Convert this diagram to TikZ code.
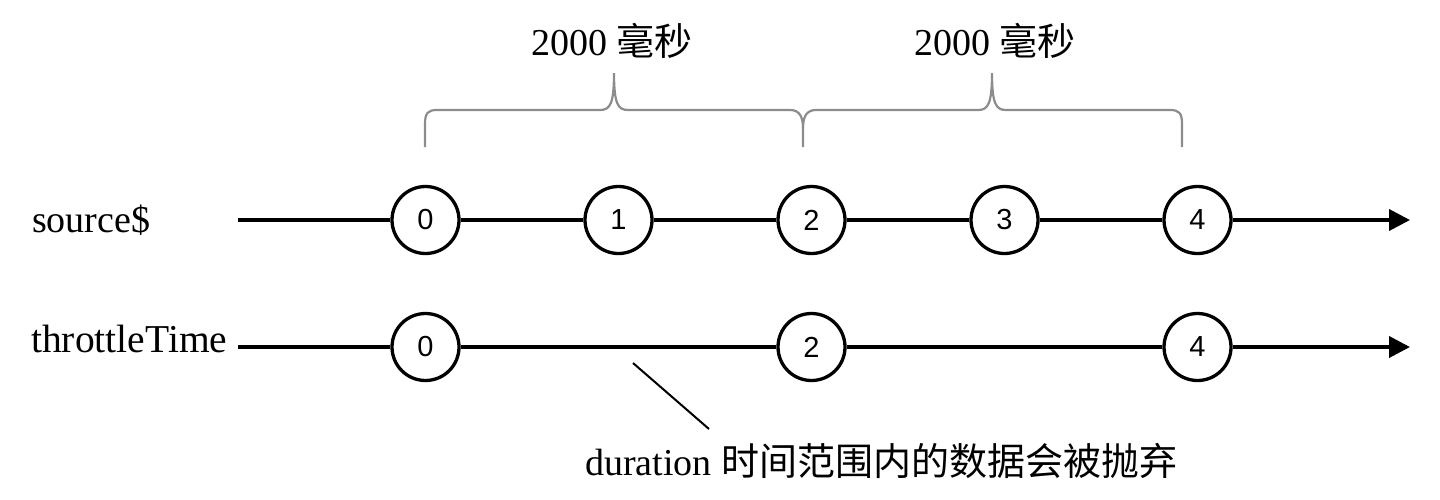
\documentclass[tikz,border=0pt]{standalone}
\usepackage{fontspec}
\setmainfont{Liberation Serif}
\newfontfamily\cjkf{Noto Sans CJK SC}
\newfontfamily\circf{Liberation Sans}
\usetikzlibrary{arrows.meta}
\tikzset{
  marble/.style={circle, draw=black, line width=3.3pt, fill=white, minimum size=67pt, inner sep=0pt, font=\circf\fontsize{29}{30}\selectfont},
  timeline/.style={line width=3.8pt, draw=black},
  lbl/.style={inner sep=0pt, font=\fontsize{38}{40}\selectfont},
  bracestyle/.style={draw=black!45, line width=2.2pt},
  pointer/.style={draw=black, line width=2pt}
}
\begin{document}
\begin{tikzpicture}[x=1pt, y=-1pt]
\useasboundingbox (0,0) rectangle (1440,499);
% labels
\node[lbl, anchor=base west] (lsrc) at (32,232) {source\$};
\node[lbl, anchor=base west, font=\fontsize{39.5}{41}\selectfont] (lthr) at (31,352) {throttleTime};
\node[lbl, anchor=base] (t1) at (612,55) {2000 {\cjkf 毫秒}};
\node[lbl, anchor=base] (t2) at (995,55) {2000 {\cjkf 毫秒}};
\node[lbl, anchor=base west] (note) at (585,475) {duration {\cjkf 时间范围内的数据会被抛弃}};
% braces
\draw[bracestyle] (425,147) -- (425,124) .. controls (425,113) and (428,110) .. (437,110)
  -- (600,110) .. controls (610,110) and (614,104) .. (614,73)
  .. controls (614,104) and (618,110) .. (628,110)
  -- (790,110) .. controls (799,110) and (803,116) .. (803,128) -- (803,147);
\draw[bracestyle] (803,128) .. controls (803,116) and (807,110) .. (816,110)
  -- (978,110) .. controls (988,110) and (992,104) .. (992,73)
  .. controls (992,104) and (996,110) .. (1006,110)
  -- (1170,110) .. controls (1179,110) and (1182,113) .. (1182,124) -- (1182,147);
% source row
\coordinate (s0) at (238,220);
\coordinate (s1) at (1410,220);
\node[marble] (a0) at (425.5,220) {0};
\node[marble] (a1) at (618.5,220) {1};
\node[marble] (a2) at (811.5,220) {2};
\node[marble] (a3) at (1004.5,220) {3};
\node[marble] (a4) at (1197.5,220) {4};
\draw[timeline] (s0) -- (a0);
\draw[timeline] (a0) -- (a1);
\draw[timeline] (a1) -- (a2);
\draw[timeline] (a2) -- (a3);
\draw[timeline] (a3) -- (a4);
\draw[timeline, -{Triangle[length=21pt, width=21pt]}] (a4) -- (s1);
% throttle row
\coordinate (r0) at (238,347);
\coordinate (r1) at (1410,347);
\node[marble] (b0) at (425.5,347) {0};
\node[marble] (b2) at (811.5,347) {2};
\node[marble] (b4) at (1197.5,347) {4};
\draw[timeline] (r0) -- (b0);
\draw[timeline] (b0) -- (b2);
\draw[timeline] (b2) -- (b4);
\draw[timeline, -{Triangle[length=21pt, width=21pt]}] (b4) -- (r1);
% pointer
\coordinate (d1) at (633,363);
\coordinate (d2) at (709,429);
\draw[pointer] (d1) -- (d2);
\end{tikzpicture}
\end{document}
